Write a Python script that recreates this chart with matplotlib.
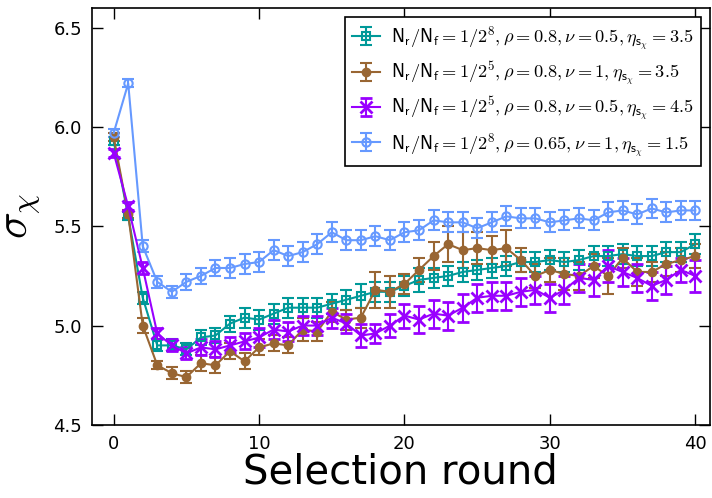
import matplotlib
matplotlib.use("Agg")
import matplotlib.pyplot as plt
import numpy as np

plt.rcParams['mathtext.fontset'] = 'cm'

rounds = np.arange(41)

teal_y = [5.93, 5.55, 5.14, 4.90, 4.90, 4.88, 4.94, 4.95, 5.01, 5.04, 5.03,
          5.06, 5.09, 5.09, 5.09, 5.11, 5.13, 5.15, 5.17, 5.17, 5.20,
          5.23, 5.24, 5.25, 5.27, 5.28, 5.29, 5.30, 5.32, 5.32, 5.33,
          5.32, 5.33, 5.35, 5.35, 5.36, 5.35, 5.35, 5.37, 5.37, 5.41]
teal_err = [0.02, 0.02, 0.03, 0.03, 0.03, 0.03, 0.04, 0.04, 0.04, 0.05, 0.05,
            0.05, 0.05, 0.05, 0.05, 0.05, 0.05, 0.06, 0.05, 0.05, 0.05,
            0.06, 0.05, 0.05, 0.05, 0.05, 0.05, 0.05, 0.05, 0.05, 0.05,
            0.05, 0.05, 0.05, 0.05, 0.05, 0.05, 0.05, 0.05, 0.05, 0.05]

brown_y = [5.95, 5.56, 5.00, 4.80, 4.76, 4.74, 4.81, 4.80, 4.87, 4.82, 4.89,
           4.91, 4.90, 4.98, 4.97, 5.07, 5.03, 5.04, 5.18, 5.17, 5.21,
           5.28, 5.35, 5.41, 5.38, 5.39, 5.38, 5.39, 5.33, 5.25, 5.28,
           5.26, 5.25, 5.30, 5.25, 5.34, 5.27, 5.27, 5.31, 5.33, 5.35]
brown_err = [0.02, 0.02, 0.04, 0.02, 0.03, 0.03, 0.04, 0.04, 0.04, 0.04, 0.04,
             0.04, 0.04, 0.06, 0.05, 0.05, 0.05, 0.05, 0.09, 0.08, 0.05,
             0.06, 0.07, 0.09, 0.09, 0.08, 0.07, 0.09, 0.06, 0.06, 0.06,
             0.08, 0.07, 0.06, 0.09, 0.05, 0.07, 0.05, 0.06, 0.06, 0.06]

purple_y = [5.87, 5.60, 5.29, 4.96, 4.90, 4.86, 4.89, 4.88, 4.90, 4.92, 4.94,
            4.98, 4.97, 5.00, 5.00, 5.04, 5.01, 4.95, 4.96, 5.00, 5.05,
            5.03, 5.06, 5.05, 5.09, 5.14, 5.15, 5.15, 5.17, 5.18, 5.14,
            5.18, 5.24, 5.23, 5.30, 5.27, 5.24, 5.20, 5.23, 5.28, 5.25]
purple_err = [0.02, 0.02, 0.03, 0.03, 0.03, 0.03, 0.04, 0.04, 0.04, 0.04, 0.05,
              0.05, 0.05, 0.05, 0.05, 0.05, 0.05, 0.06, 0.05, 0.06, 0.06,
              0.07, 0.07, 0.07, 0.07, 0.07, 0.07, 0.07, 0.07, 0.07, 0.07,
              0.07, 0.07, 0.08, 0.08, 0.07, 0.07, 0.07, 0.07, 0.06, 0.08]

blue_y = [5.97, 6.22, 5.40, 5.22, 5.17, 5.22, 5.25, 5.29, 5.29, 5.31, 5.32,
          5.38, 5.35, 5.37, 5.41, 5.47, 5.43, 5.43, 5.45, 5.43, 5.47,
          5.48, 5.53, 5.52, 5.52, 5.49, 5.52, 5.55, 5.54, 5.54, 5.52,
          5.53, 5.54, 5.53, 5.57, 5.58, 5.56, 5.59, 5.57, 5.58, 5.58]
blue_err = [0.02, 0.02, 0.03, 0.03, 0.03, 0.04, 0.04, 0.04, 0.05, 0.05, 0.05,
            0.05, 0.05, 0.05, 0.05, 0.05, 0.05, 0.05, 0.05, 0.05, 0.05,
            0.05, 0.05, 0.05, 0.05, 0.05, 0.05, 0.05, 0.05, 0.05, 0.05,
            0.05, 0.05, 0.05, 0.05, 0.05, 0.05, 0.05, 0.05, 0.05, 0.05]

labels = [
    r'$\mathsf{N}_\mathsf{r}/\mathsf{N}_\mathsf{f}=1/2^8,\rho=0.8,\nu=0.5,\eta_{\mathsf{s}_\chi}=3.5$',
    r'$\mathsf{N}_\mathsf{r}/\mathsf{N}_\mathsf{f}=1/2^5,\rho=0.8,\nu=1,\eta_{\mathsf{s}_\chi}=3.5$',
    r'$\mathsf{N}_\mathsf{r}/\mathsf{N}_\mathsf{f}=1/2^5,\rho=0.8,\nu=0.5,\eta_{\mathsf{s}_\chi}=4.5$',
    r'$\mathsf{N}_\mathsf{r}/\mathsf{N}_\mathsf{f}=1/2^8,\rho=0.65,\nu=1,\eta_{\mathsf{s}_\chi}=1.5$',
]

fig = plt.figure(figsize=(7.12, 4.98), dpi=100)
ax = fig.add_axes([0.129, 0.147, 0.868, 0.837])

common = dict(capsize=4, linewidth=1.5, elinewidth=1.5, capthick=1.5)
ax.errorbar(rounds, teal_y, yerr=teal_err, color='#009999', marker='s', ms=5.5,
            mfc='none', mew=1.5, label=labels[0], **common)
ax.errorbar(rounds, brown_y, yerr=brown_err, color='#996633', marker='o', ms=6,
            label=labels[1], **common)
ax.errorbar(rounds, purple_y, yerr=purple_err, color='#9900ff', marker='x', ms=8.5,
            mew=2, label=labels[2], **common)
ax.errorbar(rounds, blue_y, yerr=blue_err, color='#6699ff', marker='o', ms=6,
            mfc='none', mew=1.5, label=labels[3], **common)

ax.set_xlim(-1.5, 41)
ax.set_ylim(4.5, 6.6)
ax.set_xticks([0, 10, 20, 30, 40])
ax.set_yticks([4.5, 5.0, 5.5, 6.0, 6.5])
ax.set_yticklabels(['4.5', '5.0', '5.5', '6.0', '6.5'])
ax.tick_params(direction='in', top=True, right=True, length=8, width=1,
               labelsize=13, pad=7)
for s in ax.spines.values():
    s.set_linewidth(1.2)

ax.set_xlabel('Selection round', fontsize=29, labelpad=0)
ax.set_ylabel(r'$\sigma_\chi$', fontsize=32, labelpad=8)

leg = ax.legend(loc='upper right', fontsize=13.2, numpoints=1, fancybox=False,
                framealpha=1, edgecolor='black', borderaxespad=0.5,
                handlelength=1.5, handletextpad=0.6, labelspacing=0.4)
leg.get_frame().set_linewidth(1.2)

fig.savefig('out.png', dpi=100)
